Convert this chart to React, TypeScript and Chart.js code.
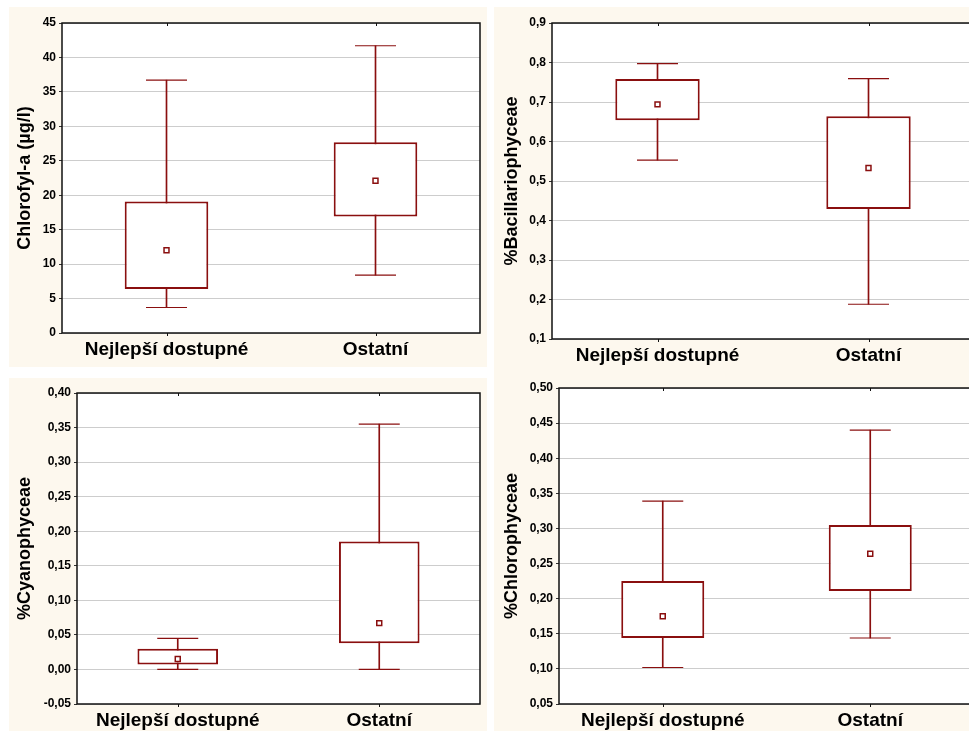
import React, { useEffect, useRef } from 'react';
import { Chart, registerables } from 'chart.js';

Chart.register(...registerables);

const categories = ['Nejlepší dostupné', 'Ostatní'];

// Chlorofyl-a (µg/l)
const chlMin = [3.7, 8.4];
const chlQ1 = [6.4, 16.9];
const chlQ3 = [19.1, 27.7];
const chlMax = [36.7, 41.7];
const chlMean = [12.0, 22.1];
const chlTicks = [0, 5, 10, 15, 20, 25, 30, 35, 40, 45];

// %Bacillariophyceae
const bacMin = [0.553, 0.188];
const bacQ1 = [0.654, 0.429];
const bacQ3 = [0.758, 0.664];
const bacMax = [0.797, 0.759];
const bacMean = [0.694, 0.533];
const bacTicks = [0.1, 0.2, 0.3, 0.4, 0.5, 0.6, 0.7, 0.8, 0.9];

// %Cyanophyceae
const cyaMin = [0.0, 0.0];
const cyaQ1 = [0.007, 0.038];
const cyaQ3 = [0.03, 0.185];
const cyaMax = [0.045, 0.355];
const cyaMean = [0.015, 0.067];
const cyaTicks = [-0.05, 0, 0.05, 0.1, 0.15, 0.2, 0.25, 0.3, 0.35, 0.4];

// %Chlorophyceae
const chlorMin = [0.102, 0.144];
const chlorQ1 = [0.144, 0.211];
const chlorQ3 = [0.225, 0.305];
const chlorMax = [0.339, 0.44];
const chlorMean = [0.175, 0.264];
const chlorTicks = [0.05, 0.1, 0.15, 0.2, 0.25, 0.3, 0.35, 0.4, 0.45, 0.5];

const FONT = "'Liberation Sans', Arial, sans-serif";
const RED = '#8a0f0f';
const BEIGE = '#fdf8ee';

type PanelProps = {
  left: number; top: number; width: number; height: number;
  yW: number; xH: number; padTop: number; padRight: number; titlePad: number;
  title: string; ticks: number[]; decimals: number;
  mins: number[]; q1: number[]; q3: number[]; maxs: number[]; means: number[];
};

const panelPlugin = {
  id: 'panelBg',
  beforeDraw(chart: any) {
    const { ctx, chartArea: a, width, height } = chart;
    ctx.save();
    ctx.fillStyle = BEIGE;
    ctx.fillRect(0, 0, width, height);
    ctx.fillStyle = '#ffffff';
    ctx.fillRect(a.left, a.top, a.right - a.left, a.bottom - a.top);
    ctx.restore();
  },
  afterDraw(chart: any) {
    const { ctx, chartArea: a } = chart;
    ctx.save();
    ctx.strokeStyle = '#111';
    ctx.lineWidth = 1.5;
    ctx.strokeRect(a.left, a.top, a.right - a.left, a.bottom - a.top);
    const xs = chart.scales.x;
    ctx.lineWidth = 1;
    for (let i = 0; i < categories.length; i++) {
      const px = Math.round(xs.getPixelForValue(i)) + 0.5;
      ctx.beginPath();
      ctx.moveTo(px, a.bottom);
      ctx.lineTo(px, a.bottom + 3);
      ctx.moveTo(px, a.top);
      ctx.lineTo(px, a.top + 3);
      ctx.stroke();
    }
    ctx.restore();
  },
};

function Panel(p: PanelProps) {
  const ref = useRef<HTMLCanvasElement>(null);
  useEffect(() => {
    if (!ref.current) return;
    const fmt = (v: number) => v.toFixed(p.decimals).replace('.', ',');
    const chart = new Chart(ref.current, {
      type: 'bar',
      data: {
        labels: categories,
        datasets: [
          {
            type: 'line',
            data: p.means,
            showLine: false,
            pointStyle: 'rect',
            pointRadius: 3.5,
            pointBorderWidth: 1.5,
            pointBorderColor: RED,
            pointBackgroundColor: '#ffffff',
            order: 1,
          } as any,
          {
            type: 'bar',
            data: categories.map((_, i) => [p.q1[i], p.q3[i]]),
            backgroundColor: '#ffffff',
            borderColor: RED,
            borderWidth: 2,
            borderSkipped: false,
            grouped: false,
            barPercentage: 0.4,
            categoryPercentage: 1,
            order: 2,
          } as any,
          {
            type: 'line',
            data: p.maxs,
            showLine: false,
            pointStyle: 'line',
            pointRadius: 20.5,
            pointBorderWidth: 1.2,
            pointBorderColor: RED,
            order: 3,
          } as any,
          {
            type: 'line',
            data: p.mins,
            showLine: false,
            pointStyle: 'line',
            pointRadius: 20.5,
            pointBorderWidth: 1.2,
            pointBorderColor: RED,
            order: 3,
          } as any,
          {
            type: 'bar',
            data: categories.map((_, i) => [p.mins[i], p.maxs[i]]),
            backgroundColor: RED,
            borderWidth: 0,
            grouped: false,
            barThickness: 1,
            order: 4,
          } as any,
        ],
      },
      options: {
        animation: false,
        responsive: false,
        maintainAspectRatio: false,
        devicePixelRatio: 1,
        layout: { autoPadding: false, padding: { left: 0, top: p.padTop, right: p.padRight, bottom: 0 } },
        plugins: { legend: { display: false }, tooltip: { enabled: false } },
        scales: {
          x: {
            type: 'category',
            offset: true,
            grid: { display: false, drawTicks: false },
            border: { display: false },
            ticks: {
              font: { family: FONT, size: 19, weight: 'bold', lineHeight: 1.2 },
              color: '#000',
              padding: 5,
              maxRotation: 0,
              autoSkip: false,
            },
            afterFit: (s: any) => { s.height = p.xH; },
          },
          y: {
            type: 'linear',
            min: p.ticks[0],
            max: p.ticks[p.ticks.length - 1],
            afterBuildTicks: (s: any) => { s.ticks = p.ticks.map((v) => ({ value: v })); },
            grid: { color: '#cdcdcd', lineWidth: 1, drawTicks: true, tickLength: 3, tickColor: '#333' },
            border: { display: false },
            ticks: {
              font: { family: FONT, size: 12, weight: 'bold' },
              color: '#000',
              padding: 3,
              callback: (v: any) => fmt(Number(v)),
            },
            title: {
              display: true,
              text: p.title,
              font: { family: FONT, size: 18, weight: 'bold', lineHeight: 1.2 },
              color: '#000',
              padding: { top: p.titlePad, bottom: 0 },
            },
            afterFit: (s: any) => { s.width = p.yW; },
          },
        },
      } as any,
      plugins: [panelPlugin],
    });
    return () => chart.destroy();
  }, []);
  return (
    <canvas
      ref={ref}
      width={p.width}
      height={p.height}
      style={{ position: 'absolute', left: p.left, top: p.top, width: p.width, height: p.height }}
    />
  );
}

export default function App() {
  return (
    <div style={{ position: 'absolute', left: 0, top: 0, width: 969, height: 731, overflow: 'hidden', background: '#fff' }}>
      <Panel left={9} top={7} width={478} height={360} yW={53} xH={34} padTop={16} padRight={7} titlePad={5}
        title="Chlorofyl-a (µg/l)" ticks={chlTicks} decimals={0}
        mins={chlMin} q1={chlQ1} q3={chlQ3} maxs={chlMax} means={chlMean} />
      <Panel left={494} top={7} width={480} height={361} yW={58} xH={29} padTop={16} padRight={0} titlePad={7}
        title="%Bacillariophyceae" ticks={bacTicks} decimals={1}
        mins={bacMin} q1={bacQ1} q3={bacQ3} maxs={bacMax} means={bacMean} />
      <Panel left={9} top={378} width={478} height={353} yW={68} xH={27} padTop={15} padRight={7} titlePad={5}
        title="%Cyanophyceae" ticks={cyaTicks} decimals={2}
        mins={cyaMin} q1={cyaQ1} q3={cyaQ3} maxs={cyaMax} means={cyaMean} />
      <Panel left={494} top={368} width={480} height={363} yW={65} xH={27} padTop={20} padRight={0} titlePad={7}
        title="%Chlorophyceae" ticks={chlorTicks} decimals={2}
        mins={chlorMin} q1={chlorQ1} q3={chlorQ3} maxs={chlorMax} means={chlorMean} />
    </div>
  );
}
